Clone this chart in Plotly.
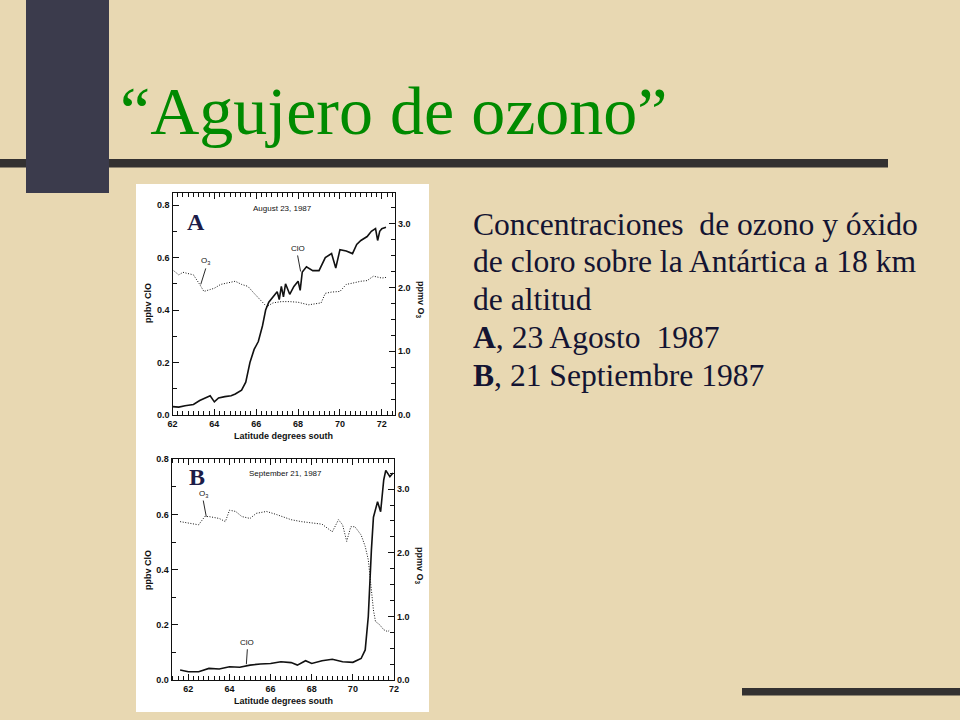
import plotly.graph_objects as go

# ---------------- data ----------------
lat_a_clo = [62.0, 62.3, 62.6, 63.0, 63.3, 63.5, 63.8, 64.0, 64.2, 64.5, 64.8, 65.0, 65.3, 65.5,
             65.7, 65.9, 66.1, 66.3, 66.45, 66.6, 66.8, 67.0, 67.1, 67.2, 67.3, 67.4, 67.6, 67.8,
             68.0, 68.1, 68.2, 68.4, 68.7, 69.0, 69.3, 69.6, 69.8, 70.0, 70.3, 70.6, 70.8, 71.0,
             71.3, 71.5, 71.7, 71.8, 71.9, 72.0, 72.2]
clo_a = [0.032, 0.030, 0.035, 0.040, 0.055, 0.063, 0.073, 0.050, 0.065, 0.070, 0.073, 0.080, 0.095,
         0.125, 0.20, 0.25, 0.28, 0.34, 0.40, 0.43, 0.45, 0.47, 0.44, 0.49, 0.45, 0.50, 0.46, 0.49,
         0.51, 0.475, 0.545, 0.565, 0.55, 0.55, 0.60, 0.615, 0.56, 0.63, 0.625, 0.615, 0.65, 0.665,
         0.68, 0.70, 0.71, 0.665, 0.70, 0.71, 0.715]

lat_a_o3 = [62.0, 62.3, 62.5, 62.8, 63.0, 63.3, 63.5, 63.8, 64.0, 64.3, 64.6, 65.0, 65.3, 65.6,
            65.9, 66.2, 66.5, 66.8, 67.2, 67.6, 68.0, 68.5, 69.0, 69.1, 69.3, 69.6, 70.0, 70.3,
            70.6, 71.0, 71.3, 71.6, 72.0, 72.2]
o3_a = [2.28, 2.20, 2.24, 2.22, 2.20, 2.05, 1.94, 1.97, 1.99, 2.05, 2.07, 2.10, 2.05, 2.02, 1.91,
        1.81, 1.70, 1.76, 1.78, 1.78, 1.77, 1.73, 1.76, 1.76, 1.91, 1.93, 1.94, 2.05, 2.07, 2.10,
        2.11, 2.18, 2.15, 2.16]

lat_b_clo = [61.6, 62.0, 62.5, 63.0, 63.5, 64.0, 64.5, 65.0, 65.5, 66.0, 66.5, 67.0, 67.3, 67.7,
             68.0, 68.5, 69.0, 69.5, 70.0, 70.4, 70.6, 70.75, 70.9, 71.0, 71.2, 71.35, 71.5, 71.6,
             71.8, 71.95]
clo_b = [0.036, 0.030, 0.030, 0.042, 0.040, 0.048, 0.046, 0.054, 0.058, 0.060, 0.066, 0.063, 0.054,
         0.070, 0.060, 0.070, 0.075, 0.066, 0.064, 0.078, 0.109, 0.23, 0.47, 0.59, 0.646, 0.61,
         0.725, 0.76, 0.737, 0.75]

lat_b_o3 = [61.6, 62.0, 62.5, 62.8, 63.0, 63.5, 63.8, 64.0, 64.3, 64.6, 65.0, 65.3, 65.8, 66.3,
            67.0, 67.5, 68.0, 68.5, 69.0, 69.3, 69.5, 69.7, 69.9, 70.1, 70.4, 70.6, 70.75, 70.85,
            71.0, 71.1, 71.3, 71.5, 71.7, 71.8]
o3_b = [2.49, 2.47, 2.44, 2.57, 2.57, 2.54, 2.49, 2.67, 2.65, 2.57, 2.54, 2.62, 2.65, 2.60, 2.52,
        2.49, 2.47, 2.45, 2.33, 2.52, 2.44, 2.18, 2.41, 2.41, 2.28, 2.10, 1.89, 1.52, 1.10, 0.92,
        0.87, 0.79, 0.76, 0.79]

x_ticks = [62, 64, 66, 68, 70, 72]
clo_ticks = [0.0, 0.2, 0.4, 0.6, 0.8]
o3_ticks = [0.0, 1.0, 2.0, 3.0]

title_text = "\u201cAgujero de ozono\u201d"
body_lines = [
    "Concentraciones  de ozono y \u00f3xido",
    "de cloro sobre la Ant\u00e1rtica a 18 km",
    "de altitud",
    "<b>A</b>, 23 Agosto  1987",
    "<b>B</b>, 21 Septiembre 1987",
]

W, H = 960, 720
def px(x): return x / W
def py(y): return 1 - y / H

BG = "#E8D8B2"
INK = "#111111"
SERIF = "Liberation Serif, Times New Roman, serif"
SANS = "Liberation Sans, Arial, sans-serif"
TFONT = dict(family=SANS, size=9, color=INK, weight="bold")

fig = go.Figure()
fig.add_trace(go.Scatter(x=lat_a_clo, y=clo_a, xaxis="x", yaxis="y", mode="lines",
                         line=dict(color=INK, width=1.6), showlegend=False))
fig.add_trace(go.Scatter(x=lat_a_o3, y=o3_a, xaxis="x", yaxis="y2", mode="lines",
                         line=dict(color=INK, width=1.0, dash="1px,1.6px"), showlegend=False))
fig.add_trace(go.Scatter(x=lat_b_clo, y=clo_b, xaxis="x2", yaxis="y3", mode="lines",
                         line=dict(color=INK, width=1.6), showlegend=False))
fig.add_trace(go.Scatter(x=lat_b_o3, y=o3_b, xaxis="x2", yaxis="y4", mode="lines",
                         line=dict(color=INK, width=1.0, dash="1px,1.6px"), showlegend=False))

def xax(domain, rng, anchor):
    return dict(domain=domain, range=rng, anchor=anchor, tickvals=x_ticks, automargin=False,
                ticks="inside", ticklen=6, tickwidth=1, tickcolor=INK,
                showline=True, linecolor=INK, linewidth=1.2, mirror="ticks",
                showgrid=False, zeroline=False, tickfont=TFONT,
                minor=dict(dtick=0.25, ticks="inside", ticklen=4, tickcolor=INK, showgrid=False))

def yax_left(domain, rng, anchor):
    return dict(domain=domain, range=rng, anchor=anchor, tickvals=clo_ticks, automargin=False,
                tickformat=".1f", ticks="inside", ticklen=6, tickwidth=1, tickcolor=INK,
                showline=True, linecolor=INK, linewidth=1.2, showgrid=False, zeroline=False,
                tickfont=TFONT,
                minor=dict(dtick=0.1, ticks="inside", ticklen=4, tickcolor=INK, showgrid=False))

def yax_right(domain, rng, anchor, over):
    return dict(domain=domain, range=rng, anchor=anchor, overlaying=over, side="right",
                automargin=False,
                tickvals=o3_ticks, tickformat=".1f", ticks="inside", ticklen=6, tickwidth=1,
                tickcolor=INK, showline=True, linecolor=INK, linewidth=1.2, showgrid=False,
                zeroline=False, tickfont=TFONT,
                minor=dict(dtick=0.25, ticks="inside", ticklen=4, tickcolor=INK, showgrid=False))

dA_x = [px(172.5), px(395)]
dA_y = [py(415), py(192.7)]
dB_x = [px(171.7), px(394)]
dB_y = [py(680), py(459.3)]

fig.update_layout(
    width=W, height=H, autosize=False, margin=dict(l=0, r=0, t=0, b=0, pad=0, autoexpand=False),
    paper_bgcolor=BG, plot_bgcolor="white", showlegend=False,
    xaxis=xax(dA_x, [62, 72.63], "y"),
    yaxis=yax_left(dA_y, [0, 0.847], "x"),
    yaxis2=yax_right(dA_y, [0, 3.49], "x", "y"),
    xaxis2=xax(dB_x, [61.19, 72.0], "y3"),
    yaxis3=yax_left(dB_y, [0, 0.8], "x2"),
    yaxis4=yax_right(dB_y, [0, 3.47], "x2", "y3"),
)

shapes = [
    dict(type="rect", xref="paper", yref="paper", x0=px(136), x1=px(429), y0=py(712), y1=py(184),
         fillcolor="white", line=dict(width=0), layer="below"),
    dict(type="rect", xref="paper", yref="paper", x0=px(26), x1=px(109), y0=py(193), y1=py(0),
         fillcolor="#3b3b4c", line=dict(width=0), layer="above"),
    dict(type="rect", xref="paper", yref="paper", x0=px(0), x1=px(888), y0=py(167.5), y1=py(159),
         fillcolor="#333131", line=dict(width=0), layer="below"),
    dict(type="rect", xref="paper", yref="paper", x0=px(742), x1=px(960), y0=py(695.5), y1=py(688),
         fillcolor="#333131", line=dict(width=0), layer="below"),
]
fig.update_layout(shapes=shapes)

ann = []
ann.append(dict(text=title_text, xref="paper", yref="paper", x=px(118), y=py(111),
                xanchor="left", yanchor="middle", showarrow=False,
                font=dict(family=SERIF, size=68, color="#008a00")))
for i, line in enumerate(body_lines):
    ann.append(dict(text=line, xref="paper", yref="paper", x=px(471), y=py(224 + 37.8 * i),
                    xanchor="left", yanchor="middle", showarrow=False,
                    font=dict(family=SERIF, size=31.6, color="#141432")))

AXT = dict(family=SANS, size=9, color=INK, weight="bold")
for (cx, ycen, rxt, rycen, xtitle_y) in [(148, 303, 421, 300, 436),
                                         (148, 570, 420, 566, 701)]:
    ann.append(dict(text="ppbv ClO", xref="paper", yref="paper", x=px(cx), y=py(ycen),
                    xanchor="center", yanchor="middle",
                    textangle=-90, showarrow=False, font=AXT))
    ann.append(dict(text="ppmv O<sub>3</sub>", xref="paper", yref="paper", x=px(rxt), y=py(rycen),
                    xanchor="center", yanchor="middle",
                    textangle=90, showarrow=False, font=AXT))
    ann.append(dict(text="Latitude degrees south", xref="paper", yref="paper", x=px(283),
                    y=py(xtitle_y), xanchor="center", yanchor="middle",
                    showarrow=False, font=AXT))

SMALL = dict(family=SANS, size=8, color=INK)
ann += [
    dict(text="August 23, 1987", xref="x", yref="y", x=67.25, y=0.787, showarrow=False, font=SMALL,
         xanchor="center", yanchor="middle"),
    dict(text="<b>A</b>", xref="x", yref="y", x=63.1, y=0.735, showarrow=False,
         xanchor="center", yanchor="middle",
         font=dict(family=SERIF, size=24, color="#1c1c48")),
    dict(text="O<sub>3</sub>", xref="x", yref="y2", x=63.35, y=2.05, ax=5, ay=-16,
         showarrow=True, arrowhead=0, arrowwidth=0.9, arrowcolor=INK, font=SMALL, yanchor="bottom"),
    dict(text="ClO", xref="x", yref="y", x=68.12, y=0.547, ax=-3, ay=-16,
         showarrow=True, arrowhead=0, arrowwidth=0.9, arrowcolor=INK, font=SMALL, yanchor="bottom"),
]
ann += [
    dict(text="September 21, 1987", xref="x2", yref="y3", x=66.7, y=0.747, showarrow=False, font=SMALL,
         xanchor="center", yanchor="middle"),
    dict(text="<b>B</b>", xref="x2", yref="y3", x=62.4, y=0.735, showarrow=False,
         xanchor="center", yanchor="middle",
         font=dict(family=SERIF, size=24, color="#1c1c48")),
    dict(text="O<sub>3</sub>", xref="x2", yref="y4", x=62.87, y=2.57, ax=-3, ay=-16,
         showarrow=True, arrowhead=0, arrowwidth=0.9, arrowcolor=INK, font=SMALL, yanchor="bottom"),
    dict(text="ClO", xref="x2", yref="y3", x=64.82, y=0.057, ax=1, ay=-15,
         showarrow=True, arrowhead=0, arrowwidth=0.9, arrowcolor=INK, font=SMALL, yanchor="bottom"),
]
fig.update_layout(annotations=ann)

fig.write_html("out.html", config={"displayModeBar": False},
               post_script="document.body.style.margin='0';document.body.style.overflow='hidden';")
